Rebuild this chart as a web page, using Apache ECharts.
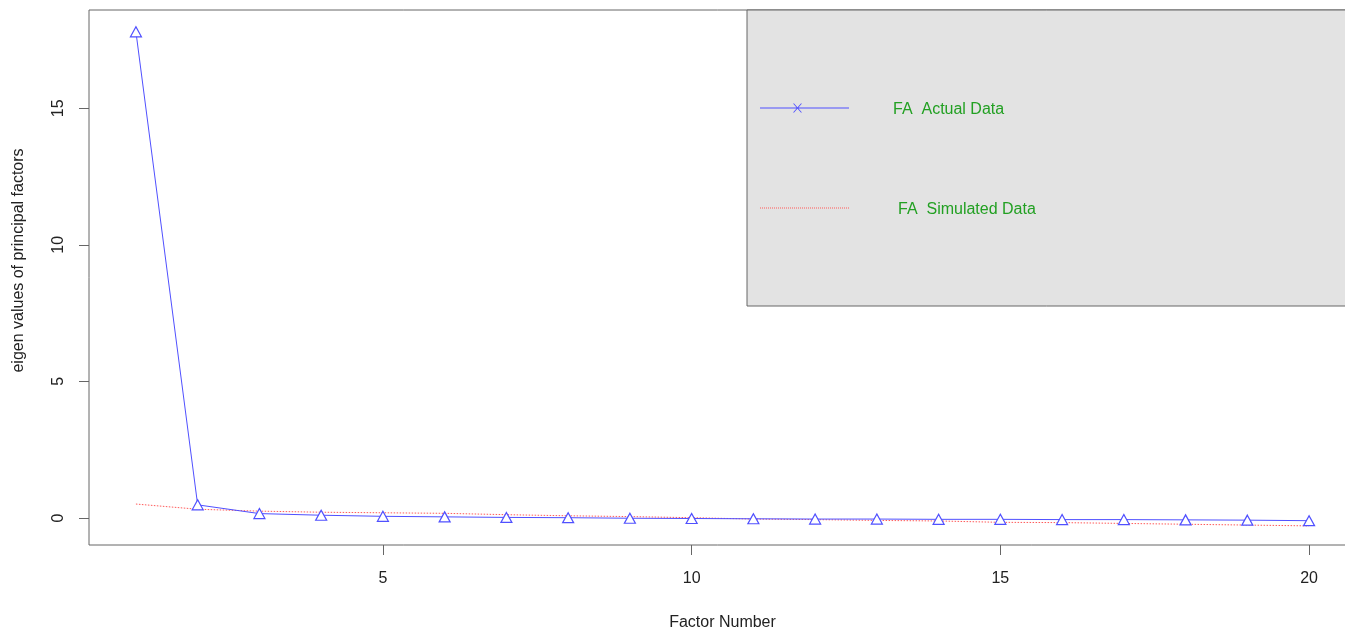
<!DOCTYPE html>
<html>
<head>
<meta charset="utf-8">
<script src="https://cdn.jsdelivr.net/npm/echarts@6/dist/echarts.min.js"></script>
<style>
html,body{margin:0;padding:0;background:#fff;}
#chart{width:1345px;height:628px;}
</style>
</head>
<body>
<div id="chart"></div>
<script>
var factors = [1,2,3,4,5,6,7,8,9,10,11,12,13,14,15,16,17,18,19,20];
var actualData = [17.8,0.48,0.16,0.1,0.06,0.04,0.02,0.01,-0.01,-0.02,-0.03,-0.04,-0.04,-0.05,-0.05,-0.06,-0.06,-0.07,-0.08,-0.1];
var simulatedData = [0.51,0.32,0.25,0.21,0.19,0.17,0.12,0.08,0.05,0.01,-0.04,-0.06,-0.09,-0.11,-0.16,-0.17,-0.2,-0.23,-0.26,-0.29];
var xTicks = [5,10,15,20];
var yTicks = [0,5,10,15];
var seriesNames = ['FA  Actual Data','FA  Simulated Data'];

var font = "'Liberation Sans', Arial, sans-serif";
var blue = '#5050ff';
var red = '#ff5a5a';
var chart = echarts.init(document.getElementById('chart'), null, {renderer:'canvas'});

function pairs(vals){ return factors.map(function(f,i){ return [f, vals[i]]; }); }

var crossIcon = 'path://M0,0 M89,13 M0,4 L89,4 L89,5 L0,5 Z M33,0 L34.1,0 L42,9 L40.9,9 Z M40.9,0 L42,0 L34.1,9 L33,9 Z';
var dotPath = 'path://M0,0 M89,13';
for (var d = 0; d < 89; d += 2) { dotPath += ' M' + d + ',4 L' + (d + 1) + ',4 L' + (d + 1) + ',5 L' + d + ',5 Z'; }

chart.setOption({
  backgroundColor:'#ffffff',
  animation:false,
  grid:{left:89, top:10, width:1267, height:535, show:true, borderColor:'#666', borderWidth:1, backgroundColor:'transparent', outerBoundsMode:'none', containLabel:false},
  legend:{
    orient:'vertical', left:747, top:10,
    padding:[92,600,88,13],
    itemGap:84, itemWidth:89, itemHeight:13,
    backgroundColor:'#e3e3e3', borderColor:'#666', borderWidth:1,
    textStyle:{color:'#22a022', fontSize:16, fontFamily:font, padding:[0,0,0,39]},
    data:[
      {name:seriesNames[0], icon:crossIcon, itemStyle:{color:blue, borderWidth:0}},
      {name:seriesNames[1], icon:dotPath, itemStyle:{color:red, borderWidth:0}, textStyle:{padding:[0,0,0,44]}}
    ]
  },
  xAxis:{
    type:'value', min:0.24, max:20.76,
    position:'bottom',
    name:'Factor Number', nameLocation:'middle', nameGap:70,
    nameTextStyle:{fontSize:16, fontFamily:font, color:'#222'},
    axisLine:{show:false, onZero:false},
    axisTick:{show:true, length:10, lineStyle:{color:'#666'}, customValues:xTicks},
    axisLabel:{fontSize:16, fontFamily:font, color:'#222', margin:26, customValues:xTicks},
    splitLine:{show:false}
  },
  yAxis:{
    type:'value', min:-0.99, max:18.6,
    name:'eigen values of principal factors', nameLocation:'middle', nameGap:62,
    nameTextStyle:{fontSize:16, fontFamily:font, color:'#222', padding:[0,0,0,34]},
    axisLine:{show:false, onZero:false},
    axisTick:{show:true, length:10, lineStyle:{color:'#666'}, customValues:yTicks},
    axisLabel:{fontSize:16, fontFamily:font, color:'#222', margin:22, rotate:90, customValues:yTicks},
    splitLine:{show:false}
  },
  series:[
    {
      name:seriesNames[0], type:'line', data:pairs(actualData),
      symbol:'triangle', symbolSize:[11,10],
      itemStyle:{color:'#ffffff', borderColor:blue, borderWidth:1.2},
      lineStyle:{color:blue, width:1},
      z:3
    },
    {
      name:seriesNames[1], type:'line', data:pairs(simulatedData),
      symbol:'none',
      itemStyle:{color:red},
      lineStyle:{color:red, width:1, type:[1.5,1.5]},
      z:2
    }
  ]
});
</script>
</body>
</html>
